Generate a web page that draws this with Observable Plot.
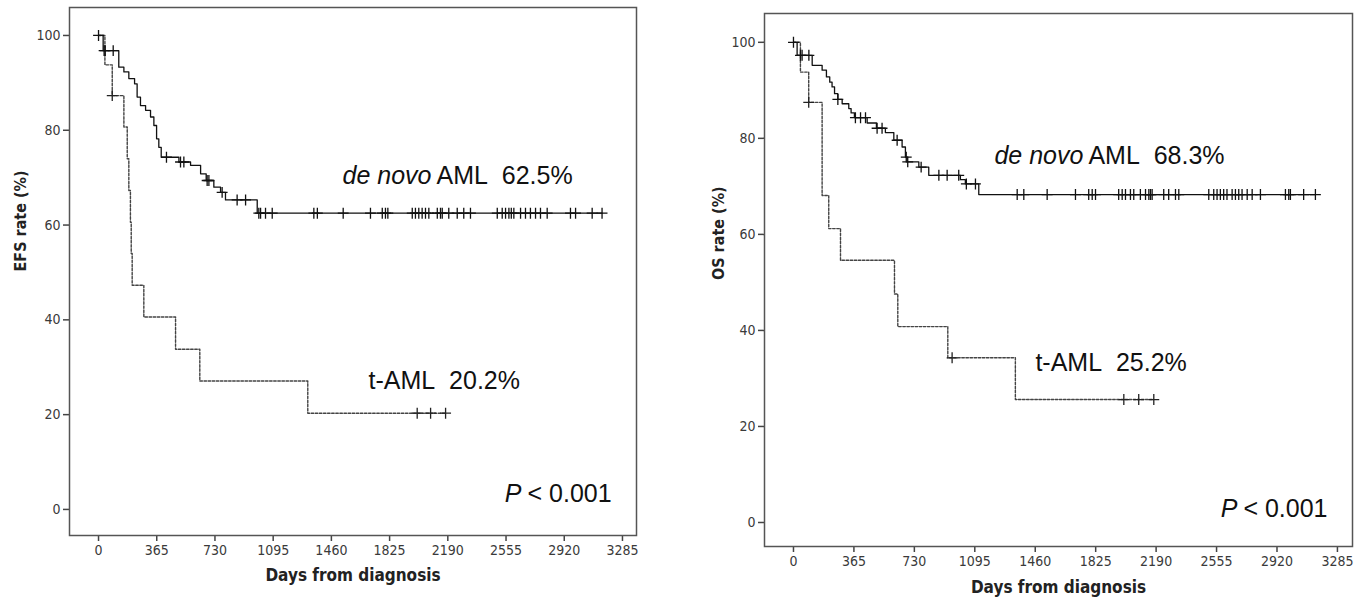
<!DOCTYPE html>
<html><head><meta charset="utf-8">
<script src="https://cdn.jsdelivr.net/npm/d3@7"></script>
<script src="https://cdn.jsdelivr.net/npm/@observablehq/plot@0.6"></script>
<style>
body{margin:0;background:#fff;}
#wrap{position:relative;width:1355px;height:606px;overflow:hidden;background:#fff;}
#left{position:absolute;left:0;top:0;}
#right{position:absolute;left:700px;top:0;}
</style></head><body><div id="wrap"><div id="left"></div><div id="right"></div></div>
<script>
// ---- tick labels ----
const xTicks = [0, 365, 730, 1095, 1460, 1825, 2190, 2555, 2920, 3285];
const yTicks = [0, 20, 40, 60, 80, 100];

// ---- EFS, de novo AML (solid) ----
const efsDeNovoDays = [0, 29, 127, 159, 190, 226, 242, 263, 295, 326, 347, 364, 378, 393, 504, 577, 640, 675, 723, 765, 796, 995];
const efsDeNovoRate = [100, 96.8, 93.3, 92.3, 90.9, 89.8, 87.0, 85.2, 84.2, 82.8, 81.0, 78.2, 76.4, 74.3, 73.3, 72.6, 70.8, 69.4, 68.0, 66.9, 65.3, 62.5];
const efsDeNovoCensored = [0, 35, 42, 92, 426, 514, 535, 681, 692, 775, 869, 922, 1005, 1016, 1047, 1089, 1350, 1372, 1534, 1705, 1779, 1799, 1814, 1967, 1987, 2008, 2029, 2050, 2071, 2124, 2144, 2155, 2196, 2249, 2290, 2332, 2500, 2531, 2552, 2573, 2588, 2604, 2646, 2677, 2708, 2740, 2771, 2813, 2959, 2991, 3095, 3157];

// ---- EFS, t-AML (dashed) ----
const efsTamlDays = [0, 40, 86, 159, 180, 190, 200, 205, 211, 284, 483, 635, 1312];
const efsTamlRate = [100, 93.8, 87.3, 80.7, 74.0, 67.3, 60.6, 54.0, 47.3, 40.6, 33.8, 27.1, 20.3];
const efsTamlCensored = [86, 1998, 2082, 2176];

// ---- OS, de novo AML (solid) ----
const osDeNovoDays = [0, 22, 113, 173, 199, 219, 233, 248, 268, 294, 334, 348, 368, 445, 501, 555, 606, 656, 676, 686, 757, 817, 1008, 1038, 1119];
const osDeNovoRate = [100, 97.3, 95.2, 94.2, 92.8, 91.7, 90.7, 89.3, 88.1, 87.2, 86.2, 85.3, 84.3, 83.2, 82.1, 81.2, 79.6, 78.2, 76.1, 75.1, 74.0, 72.3, 71.4, 70.5, 68.3];
const osDeNovoCensored = [0, 42, 52, 93, 268, 374, 405, 435, 505, 535, 626, 681, 690, 771, 878, 928, 998, 1044, 1099, 1351, 1391, 1532, 1703, 1783, 1804, 1824, 1964, 1985, 2005, 2035, 2055, 2095, 2126, 2146, 2156, 2166, 2236, 2266, 2307, 2327, 2508, 2538, 2558, 2578, 2598, 2618, 2649, 2669, 2689, 2709, 2740, 2770, 2820, 2971, 2991, 3001, 3081, 3152];

// ---- OS, t-AML (dashed) ----
const osTamlDays = [0, 42, 92, 173, 213, 284, 610, 630, 932, 1340];
const osTamlRate = [100, 93.8, 87.5, 68.1, 61.2, 54.6, 47.6, 40.8, 34.3, 25.6];
const osTamlCensored = [92, 958, 1995, 2085, 2176];

// ---- annotation texts ----
const efsTexts = {deNovoItalic: "de novo", deNovoRest: "AML\u00a0 62.5%", taml: "t-AML\u00a0 20.2%", yLabel: "EFS rate (%)"};
const osTexts = {deNovoItalic: "de novo", deNovoRest: "AML\u00a0 68.3%", taml: "t-AML\u00a0 25.2%", yLabel: "OS rate (%)"};
const pItalic = "P";
const pRest = "< 0.001";
const xLabel = "Days from diagnosis";

// annotation anchor points in data units [day, rate]
const efsAnchors = {deNovo: [2100, 70.4], taml: [1693, 27.2], p: [2671, 3.2]};
const osAnchors = {deNovo: [1763, 76.3], taml: [1461, 33.3], p: [2699, 2.9]};

function curve(days, rates, censored) {
  const end = Math.max(days[days.length - 1], ...censored);
  const pts = days.map((d, i) => ({day: d, rate: rates[i]}));
  pts.push({day: end, rate: rates[rates.length - 1]});
  const marks = censored.map(c => {
    const i = Math.max(0, d3.bisectRight(days, c) - 1);
    return {day: c, rate: rates[i]};
  });
  return {pts, marks};
}

const tickFont = "'Liberation Sans Narrow', 'Arial Narrow', 'DejaVu Sans Condensed', sans-serif";
const textFont = "'Liberation Sans', Arial, sans-serif";

function km({width, mL, mR, mT, mB, xDomain, yDomain, deNovo, taml, texts, anchors, yLabelDx, xLabelDy}) {
  const A = anchors;
  return Plot.plot({
    width, height: 606,
    marginLeft: mL, marginRight: mR, marginTop: mT, marginBottom: mB,
    x: {domain: xDomain},
    y: {domain: yDomain},
    style: {fontFamily: tickFont, background: "white", color: "#222"},
    marks: [
      Plot.axisX({ticks: xTicks, tickSize: 6, tickPadding: 4, label: null, fontSize: 14, stroke: "#444", strokeWidth: 1.5, fill: "#3a3a3a", tickFormat: d => String(d)}),
      Plot.axisY({ticks: yTicks, tickSize: 6, tickPadding: 3, label: null, fontSize: 14, stroke: "#444", strokeWidth: 1.5, fill: "#3a3a3a", tickFormat: d => String(d)}),
      Plot.frame({stroke: "#555", strokeWidth: 1.5}),
      Plot.line(taml.pts, {x: "day", y: "rate", curve: "step-after", stroke: "#444", strokeWidth: 1.4, strokeDasharray: "2.5,1.6"}),
      Plot.line(deNovo.pts, {x: "day", y: "rate", curve: "step-after", stroke: "#111", strokeWidth: 1.3}),
      Plot.dot(taml.marks, {x: "day", y: "rate", symbol: "plus", r: 3.6, stroke: "#222", strokeWidth: 1.3}),
      Plot.dot(deNovo.marks, {x: "day", y: "rate", symbol: "plus", r: 3.6, stroke: "#111", strokeWidth: 1.3}),
      Plot.text([texts.deNovoItalic], {x: () => A.deNovo[0], y: () => A.deNovo[1], text: d => d, textAnchor: "end", dx: -2, fontSize: 25, fontStyle: "italic", fontFamily: textFont, fill: "#111"}),
      Plot.text([texts.deNovoRest], {x: () => A.deNovo[0], y: () => A.deNovo[1], text: d => d, textAnchor: "start", dx: 3, fontSize: 25, fontFamily: textFont, fill: "#111"}),
      Plot.text([texts.taml], {x: () => A.taml[0], y: () => A.taml[1], text: d => d, textAnchor: "start", fontSize: 25, fontFamily: textFont, fill: "#111"}),
      Plot.text([pItalic], {x: () => A.p[0], y: () => A.p[1], text: d => d, textAnchor: "end", dx: -3, fontSize: 25, fontStyle: "italic", fontFamily: textFont, fill: "#111"}),
      Plot.text([pRest], {x: () => A.p[0], y: () => A.p[1], text: d => d, textAnchor: "start", dx: 3, fontSize: 25, fontFamily: textFont, fill: "#111"}),
      Plot.text([texts.yLabel], {text: d => d, frameAnchor: "left", dx: yLabelDx, rotate: -90, fontWeight: "bold", fontSize: 16, fill: "#222"}),
      Plot.text([xLabel], {text: d => d, frameAnchor: "bottom", dy: xLabelDy, fontWeight: "bold", fontSize: 17, fill: "#222"})
    ]
  });
}

document.getElementById("left").appendChild(km({
  width: 650, mL: 69, mR: 14, mT: 7, mB: 71,
  xDomain: [-182, 3373], yDomain: [-5.5, 105.9],
  deNovo: curve(efsDeNovoDays, efsDeNovoRate, efsDeNovoCensored),
  taml: curve(efsTamlDays, efsTamlRate, efsTamlCensored),
  texts: efsTexts, anchors: efsAnchors, yLabelDx: -49, xLabelDy: 45
}));

document.getElementById("right").appendChild(km({
  width: 655, mL: 64, mR: 3, mT: 13, mB: 60,
  xDomain: [-175, 3376], yDomain: [-5.0, 106.0],
  deNovo: curve(osDeNovoDays, osDeNovoRate, osDeNovoCensored),
  taml: curve(osTamlDays, osTamlRate, osTamlCensored),
  texts: osTexts, anchors: osAnchors, yLabelDx: -46, xLabelDy: 46
}));
</script></body></html>
